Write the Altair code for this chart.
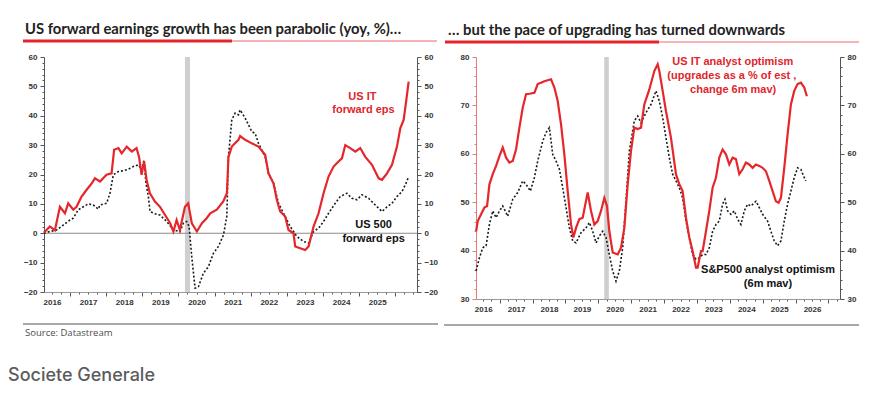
import altair as alt
import pandas as pd
import numpy as np

RED = "#e5262b"
BLACK = "#1a1a1a"
AX_FONT = "Liberation Sans"

# ---------------- Left panel: forward EPS growth (yoy %) ----------------
it_eps_year = [2016.277, 2016.443, 2016.582, 2016.72, 2016.859, 2016.95, 2017.09, 2017.18, 2017.32,
               2017.46, 2017.60, 2017.69, 2017.83, 2018.01, 2018.15, 2018.22, 2018.34, 2018.43,
               2018.57, 2018.71, 2018.84, 2018.91, 2018.98, 2019.05, 2019.12, 2019.21, 2019.35,
               2019.49, 2019.63, 2019.77, 2019.86, 2019.95, 2020.04, 2020.18, 2020.27, 2020.37,
               2020.51, 2020.65, 2020.78, 2020.88, 2021.06, 2021.24, 2021.34,
               2021.383, 2021.476, 2021.66, 2021.706, 2021.845, 2022.03, 2022.214, 2022.399,
               2022.491, 2022.63, 2022.722, 2022.814, 2022.953, 2023.045, 2023.184, 2023.23,
               2023.368, 2023.507, 2023.6, 2023.738, 2023.876, 2024.015, 2024.153, 2024.292,
               2024.43, 2024.523, 2024.615, 2024.753, 2024.892, 2025.03, 2025.169, 2025.354,
               2025.538, 2025.631, 2025.77, 2025.908, 2026.046, 2026.139, 2026.231, 2026.305,
               2026.369]
it_eps_val = [0.2, 2.3, 1.0, 9.0, 6.8, 10.2, 8.0, 9.0, 12.5,
              14.8, 17.0, 18.7, 17.6, 19.9, 20.4, 28.4, 29.0, 27.2,
              29.5, 27.8, 29.0, 26.0, 19.9, 24.5, 18.0, 13.6, 10.8,
              9.0, 6.2, 3.4, 0.6, 4.5, 1.1, 9.0, 10.2, 3.4,
              0.6, 3.4, 5.1, 6.8, 8.0, 10.8, 13.6,
              26.0, 29.5, 31.8, 33.1, 31.8, 30.6, 29.5, 26.7,
              20.4, 17.0, 11.4, 7.4, 5.7, 1.1, 0.0, -4.5,
              -5.1, -5.7, -4.5, 2.3, 6.8, 13.6, 19.3, 22.7,
              24.4, 25.5, 30.0, 29.0, 27.8, 29.0, 26.0, 23.3,
              18.7, 18.2, 20.4, 23.3, 29.5, 35.8, 38.6, 45.4,
              51.6]

sp_eps_year = [2016.277, 2016.443, 2016.628, 2016.813, 2016.997, 2017.09, 2017.228, 2017.367, 2017.505,
               2017.644, 2017.782, 2017.828, 2018.013, 2018.105, 2018.198, 2018.336, 2018.475,
               2018.613, 2018.752, 2018.89, 2018.983, 2019.047, 2019.102, 2019.167, 2019.213,
               2019.352, 2019.49, 2019.675, 2019.86, 2020.044, 2020.137, 2020.229, 2020.294,
               2020.368, 2020.46, 2020.553, 2020.69, 2020.829, 2020.968, 2021.106, 2021.245,
               2021.337, 2021.383, 2021.476, 2021.568, 2021.66, 2021.706, 2021.845, 2022.03,
               2022.122, 2022.214, 2022.399, 2022.491, 2022.63, 2022.768, 2022.907, 2023.091,
               2023.276, 2023.461, 2023.6, 2023.738, 2023.876, 2024.015, 2024.153, 2024.338,
               2024.476, 2024.661, 2024.8, 2024.938, 2025.077, 2025.261, 2025.446, 2025.631,
               2025.77, 2025.908, 2026.046, 2026.185, 2026.277, 2026.351]
sp_eps_val = [0.0, 0.6, 1.1, 2.8, 4.5, 5.1, 8.0, 9.0, 10.0,
              9.6, 8.2, 9.6, 10.2, 13.6, 19.9, 21.0, 21.3,
              21.8, 22.7, 23.3, 21.6, 25.0, 17.0, 12.5, 7.4,
              6.6, 6.2, 4.0, 1.1, 0.6, 3.4, 4.0, 2.3,
              -8.0, -18.7, -18.2, -13.6, -11.4, -6.8, -4.5, -0.6,
              5.7, 26.0, 38.6, 40.9, 40.3, 42.0, 39.2, 34.6,
              34.0, 30.6, 26.0, 20.4, 17.0, 10.2, 6.8, 2.3,
              -1.1, -2.8, -3.4, 0.6, 1.7, 4.0, 6.8, 10.2,
              12.5, 13.6, 11.9, 11.4, 13.1, 11.9, 9.6, 7.4,
              9.0, 10.2, 12.5, 14.2, 16.5, 18.7]

# ---------------- Right panel: analyst optimism ----------------
it_opt_year = [2016.283, 2016.333, 2016.435, 2016.536, 2016.617, 2016.688, 2016.789, 2016.891, 2016.992,
               2017.093, 2017.195, 2017.296, 2017.397, 2017.498, 2017.6, 2017.701, 2017.802, 2017.904,
               2018.056, 2018.157, 2018.258, 2018.36, 2018.562, 2018.664, 2018.765, 2018.866,
               2018.967, 2019.069, 2019.17, 2019.241, 2019.322, 2019.423, 2019.525, 2019.606,
               2019.677, 2019.778, 2019.879, 2019.981, 2020.082, 2020.183, 2020.264, 2020.335,
               2020.437, 2020.589, 2020.69, 2020.791, 2020.893, 2020.994, 2021.095, 2021.197,
               2021.298, 2021.399, 2021.551, 2021.703, 2021.805, 2021.855, 2021.957, 2022.058,
               2022.21, 2022.362, 2022.463, 2022.564, 2022.666, 2022.767, 2022.868, 2022.97,
               2023.02, 2023.122, 2023.172, 2023.274, 2023.375, 2023.476, 2023.578, 2023.679,
               2023.78, 2023.881, 2023.983, 2024.084, 2024.185, 2024.287, 2024.388, 2024.489,
               2024.591, 2024.692, 2024.793, 2024.895, 2024.996, 2025.097, 2025.199, 2025.3,
               2025.401, 2025.482, 2025.553, 2025.655, 2025.756, 2025.857, 2025.958, 2026.06,
               2026.161, 2026.262, 2026.343]
it_opt_val = [44.0, 46.1, 47.5, 48.9, 49.2, 53.7, 55.8, 57.5, 59.5,
              61.3, 59.2, 58.2, 58.5, 60.9, 65.4, 69.5, 72.3, 72.4,
              72.6, 74.4, 74.7, 75.0, 75.4, 73.7, 70.9, 66.1,
              59.9, 52.3, 45.4, 42.7, 44.7, 46.5, 46.8, 49.6,
              52.0, 48.2, 45.4, 46.1, 48.2, 50.9, 49.2, 44.0,
              39.6, 39.2, 40.6, 44.7, 53.7, 60.6, 65.4, 65.1,
              65.4, 70.2, 73.3, 77.1, 78.5, 77.1, 73.0, 68.8,
              63.3, 55.8, 53.7, 52.3, 46.8, 42.7, 39.9, 36.5,
              36.5, 39.9, 39.9, 44.0, 48.2, 53.0, 55.1, 59.2,
              60.9, 59.9, 57.8, 59.2, 58.9, 55.8, 56.8, 58.2,
              57.8, 57.1, 57.8, 57.5, 57.1, 56.4, 54.4, 52.3,
              50.2, 49.9, 50.9, 57.1, 64.0, 70.2, 73.0, 74.4,
              74.7, 73.7, 71.9]

sp_opt_year = [2016.283, 2016.384, 2016.485, 2016.587, 2016.688, 2016.789, 2016.891, 2016.992, 2017.093,
               2017.245, 2017.397, 2017.549, 2017.701, 2017.802, 2017.934, 2018.056, 2018.157,
               2018.309, 2018.41, 2018.512, 2018.613, 2018.714, 2018.816, 2018.917, 2019.018,
               2019.12, 2019.221, 2019.322, 2019.474, 2019.626, 2019.727, 2019.829, 2019.93,
               2020.031, 2020.133, 2020.234, 2020.335, 2020.437, 2020.538, 2020.639, 2020.741,
               2020.842, 2020.943, 2021.095, 2021.197, 2021.298, 2021.45, 2021.602, 2021.754,
               2021.855, 2021.957, 2022.058, 2022.159, 2022.26, 2022.362, 2022.463, 2022.564,
               2022.666, 2022.767, 2022.868, 2022.97, 2023.071, 2023.172, 2023.274, 2023.375,
               2023.476, 2023.578, 2023.679, 2023.78, 2023.851, 2023.932, 2024.033, 2024.135,
               2024.236, 2024.337, 2024.439, 2024.54, 2024.641, 2024.793, 2024.895, 2024.996,
               2025.148, 2025.249, 2025.351, 2025.452, 2025.553, 2025.655, 2025.756, 2025.857,
               2025.958, 2026.06, 2026.161, 2026.242, 2026.313]
sp_opt_val = [35.8, 38.5, 40.6, 41.0, 45.4, 48.2, 46.8, 48.2, 49.2,
              47.1, 50.6, 52.0, 54.4, 53.7, 52.3, 55.1, 58.5,
              62.6, 64.4, 65.4, 59.9, 58.5, 56.8, 53.0, 48.9,
              44.7, 42.0, 41.6, 43.7, 44.7, 45.8, 44.0, 41.6,
              43.0, 44.0, 42.7, 39.2, 35.8, 33.7, 35.8, 40.6,
              50.2, 60.6, 66.8, 67.8, 66.4, 68.5, 70.2, 73.0,
              70.9, 67.5, 63.3, 59.2, 55.8, 54.4, 53.0, 50.9,
              46.1, 42.7, 39.2, 38.2, 38.5, 39.2, 39.2, 40.6,
              44.0, 45.4, 46.1, 49.6, 50.6, 48.2, 47.5, 48.2,
              46.5, 45.4, 48.2, 49.6, 49.2, 50.2, 48.9, 47.5,
              46.1, 44.0, 42.0, 41.0, 42.0, 46.1, 49.6, 52.3,
              55.1, 57.1, 56.8, 55.4, 54.4]

# recession / covid shading
band_start = [2020.18]
band_end = [2020.32]

# texts
left_title = "US forward earnings growth has been parabolic (yoy, %)\u2026"
right_title = "\u2026 but the pace of upgrading has turned downwards"
left_notes_text = ["US IT", "forward eps", "US 500", "forward eps"]
left_notes_x = [2025.09, 2025.12, 2025.40, 2025.40]
left_notes_y = [46.4, 41.9, 2.8, -2.0]
left_notes_col = ["red", "red", "black", "black"]
right_notes_text = ["US IT analyst optimism", "(upgrades as a % of est ,", "change 6m mav)",
                    "S&P500 analyst optimism", "(6m mav)"]
right_notes_x = [2024.09, 2024.06, 2024.10, 2025.16, 2025.16]
right_notes_y = [79.0, 76.1, 73.2, 35.9, 33.2]
right_notes_col = ["red", "red", "red", "black", "black"]

LX = [2016.28, 2026.6]
LY = [-20, 60]
RX = [2016.28, 2027.35]
RY = [30, 80]
LW, LH = 373, 235
RW, RH = 364, 242


def x_axis(domain, last_label):
    vals = [float(v) for v in np.arange(np.ceil(domain[0] * 4) / 4, domain[1] + 1e-9, 0.25)]
    return alt.Axis(values=vals,
                    labelExpr=f"(datum.value % 1 == 0.5 && datum.value < {last_label}) ? ''+floor(datum.value) : ''",
                    tickSize={"condition": {"test": "datum.value % 1 == 0", "value": 4}, "value": 2},
                    labelFlush=False, labelOverlap=False, labelBound=False,
                    labelFont=AX_FONT, labelFontSize=8, labelFontWeight="bold", labelColor="#333",
                    labelPadding=4, domainColor="#999", tickColor="#555", grid=False, title=None)


def y_axis(domain, orient, color="#555"):
    vals = list(range(domain[0], domain[1] + 1, 2))
    return alt.Axis(orient=orient, values=vals,
                    labelExpr="datum.value % 10 == 0 ? datum.label : ''",
                    tickSize={"condition": {"test": "datum.value % 10 == 0", "value": 4}, "value": 2},
                    labelOverlap=False, labelFlush=False, labelBound=False,
                    labelFont=AX_FONT, labelFontSize=8, labelFontWeight="bold", labelColor="#333",
                    labelPadding=3, domainColor=color, tickColor=color, grid=False, title=None)


def panel(series_red, series_blk, xdom, ydom, w, h, notes, title, deco, left_axis_color, zero_line,
          extra_left=False):
    xs = alt.Scale(domain=xdom, nice=False, zero=False)
    ys = alt.Scale(domain=ydom, nice=False, zero=False)
    xa = x_axis(xdom, 2026 if xdom[1] < 2027 else 2027)
    one = pd.DataFrame({"a": [0]})

    band = alt.Chart(pd.DataFrame({"s": band_start, "e": band_end})).mark_rect(color="#cfcfcf").encode(
        x=alt.X("s:Q", scale=xs, axis=None), x2="e:Q")
    layers = [band]
    if zero_line:
        layers.append(alt.Chart(pd.DataFrame({"z": [0]})).mark_rule(color="#8a8a8a", strokeWidth=1).encode(
            y=alt.Y("z:Q", scale=ys, axis=None)))
    red = alt.Chart(pd.DataFrame({"year": series_red[0], "v": series_red[1]})).mark_line(
        color=RED, strokeWidth=2.2).encode(
        x=alt.X("year:Q", scale=xs, axis=xa),
        y=alt.Y("v:Q", scale=ys, axis=y_axis(ydom, "left", left_axis_color)))
    blk = alt.Chart(pd.DataFrame({"year": series_blk[0], "v": series_blk[1]})).mark_line(
        color=BLACK, strokeWidth=1.6, strokeDash=[2, 2]).encode(
        x=alt.X("year:Q", scale=xs, axis=None),
        y=alt.Y("v:Q", scale=ys, axis=y_axis(ydom, "right")))
    layers += [blk, red]

    ndf = pd.DataFrame({"t": notes[0], "x": notes[1], "y": notes[2], "c": notes[3]})
    notes_layer = alt.Chart(ndf).mark_text(font=AX_FONT, fontSize=11, fontWeight="bold",
                                          align="center", baseline="middle").encode(
        x=alt.X("x:Q", scale=xs, axis=None), y=alt.Y("y:Q", scale=ys, axis=None), text="t:N",
        color=alt.Color("c:N", scale=alt.Scale(domain=["red", "black"], range=["#e0262c", "#111"]),
                        legend=None))
    layers.append(notes_layer)

    # decorations (title, underline, bottom rule, source)
    tx, ty, ul_x0, ul_mid, ul_x1, ul_y, gl_x0, gl_x1, gl_y = deco
    layers.append(alt.Chart(one).mark_text(align="left", baseline="middle", font="Lato", fontSize=14.8,
                                           fontWeight="bold", color="#222").encode(
        x=alt.value(tx), y=alt.value(ty), text=alt.value(title)))
    layers.append(alt.Chart(one).mark_rule(color="#e9454a", strokeWidth=1, opacity=0.8).encode(
        x=alt.value(ul_mid), x2=alt.value(ul_x1), y=alt.value(ul_y)))
    layers.append(alt.Chart(one).mark_rule(color="#e3242b", strokeWidth=3).encode(
        x=alt.value(ul_x0), x2=alt.value(ul_mid), y=alt.value(ul_y)))
    layers.append(alt.Chart(one).mark_rule(color="#a8a8a8", strokeWidth=2).encode(
        x=alt.value(gl_x0), x2=alt.value(gl_x1), y=alt.value(gl_y)))
    if extra_left:
        layers.append(alt.Chart(one).mark_text(align="left", baseline="middle", font="Open Sans",
                                               fontSize=9.5, color="#4d4d4d").encode(
            x=alt.value(-19), y=alt.value(276), text=alt.value("Source: Datastream")))
        layers.append(alt.Chart(one).mark_text(align="left", baseline="middle", font="Inter",
                                               fontSize=18, fontWeight=500, color="#5c5c5c").encode(
            x=alt.value(-36), y=alt.value(319), text=alt.value("Societe Generale")))

    return alt.layer(*layers).resolve_axis(x="independent", y="independent").properties(width=w, height=h)


left = panel((it_eps_year, it_eps_val), (sp_eps_year, sp_eps_val), LX, LY, LW, LH,
             (left_notes_text, left_notes_x, left_notes_y, left_notes_col), left_title,
             (-19, -27, -21, 188, 393, -16, -21, 394, 267), "#555", True, extra_left=True)
right = panel((it_opt_year, it_opt_val), (sp_opt_year, sp_opt_val), RX, RY, RW, RH,
              (right_notes_text, right_notes_x, right_notes_y, right_notes_col), right_title,
              (-28, -26, -31, 183, 383, -15, -32, 383, 268), "#e87a7a", False)

chart = alt.hconcat(left, right, spacing=4).properties(
    padding={"left": 0, "top": 14, "right": 0, "bottom": 0}, background="white"
).configure_view(stroke=None)

chart.save("out.html", embed_options={"renderer": "svg", "actions": False})
